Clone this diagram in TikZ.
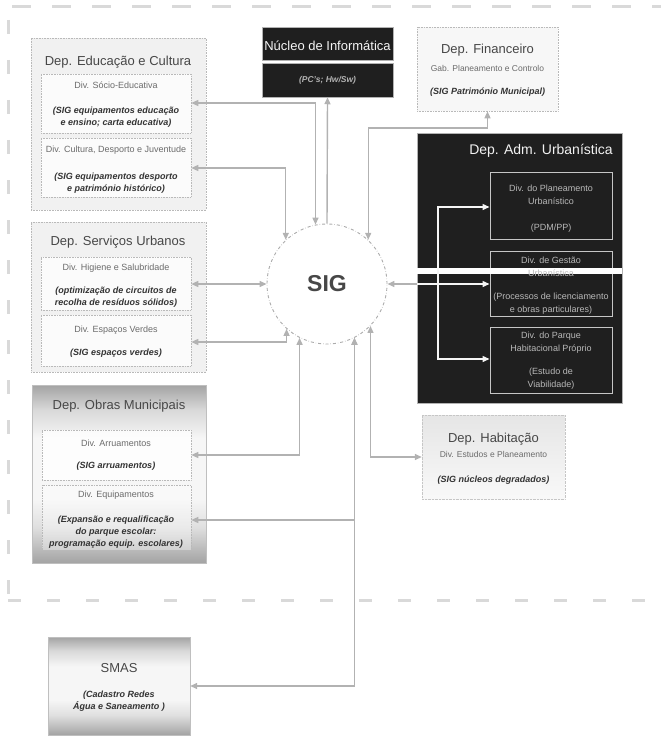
\documentclass[tikz,border=0pt]{standalone}
\usepackage{fontspec}
\setmainfont{Liberation Sans}
\usetikzlibrary{arrows.meta,fit}

% vertical shading: dark at top and bottom, light in the middle
\pgfdeclareverticalshading{endshade}{100bp}{color(0bp)=(gray!72); color(25bp)=(gray!72); color(35bp)=(gray!25); color(43bp)=(gray!7); color(60bp)=(gray!7); color(68bp)=(gray!30); color(75bp)=(gray!72); color(100bp)=(gray!72)}

\begin{document}
\begin{tikzpicture}[x=1pt,y=-1pt,
  lightbox/.style={draw=gray!55, densely dotted, fill=gray!11, inner sep=0pt, line width=0.6pt},
  divbox/.style={draw=gray!55, densely dotted, fill=gray!3, inner sep=0pt, line width=0.6pt},
  darkbox/.style={fill=black!88, draw=gray!60, inner sep=0pt, line width=0.5pt},
  darkdiv/.style={draw=gray!45, line width=1pt, inner sep=0pt},
  ttl/.style={font=\fontsize{13}{15}\selectfont, text=black!72},
  divtxt/.style={font=\fontsize{9}{11}\selectfont, text=black!58},
  subtxt/.style={font=\fontsize{8.5}{10}\selectfont, text=black!58},
  sigtxt/.style={font=\fontsize{9}{12}\selectfont\bfseries\itshape, text=black!80, align=center},
  admtxt/.style={font=\fontsize{9}{13}\selectfont, text=gray!55, align=center},
  tip/.tip={Triangle[length=7pt,width=6pt]},
  link/.style={draw=gray!60, line width=1.4pt, tip-tip},
  linkone/.style={draw=gray!60, line width=1.4pt, -tip},
  wlink/.style={draw=white!92!gray, line width=1.4pt},
  frameline/.style={draw=gray!30, line width=3pt}
]
\useasboundingbox (0,0) rectangle (661,738);

% dashed page frame
\draw[frameline, dash pattern=on 19pt off 21pt] (12,7) -- (661,7);
\draw[frameline, dash pattern=on 14pt off 26pt] (8,20) -- (8,600);
\draw[frameline, dash pattern=on 13pt off 26pt] (8,600) -- (661,600);

% Dep. Educacao e Cultura
\node[lightbox, fit={(31,38) (206,210)}] (edu) {};
\node[ttl] (eduT) at (118,62) {Dep. Educação e Cultura};
\node[divbox, fit={(41,74) (191,133)}] (edu1) {};
\node[divtxt] (edu1a) at (116,85) {Div. Sócio-Educativa};
\node[sigtxt] (edu1b) at (116,117) {(SIG equipamentos educação\\ e ensino; carta educativa)};
\node[divbox, fit={(41,138) (191,197)}] (edu2) {};
\node[divtxt] (edu2a) at (116,150) {Div. Cultura, Desporto e Juventude};
\node[sigtxt] (edu2b) at (116,183) {(SIG equipamentos desporto\\ e património histórico)};

% Dep. Servicos Urbanos
\node[lightbox, fit={(31,222) (206,372)}] (srv) {};
\node[ttl] (srvT) at (118,242) {Dep. Serviços Urbanos};
\node[divbox, fit={(41,257) (191,310)}] (srv1) {};
\node[divtxt] (srv1a) at (116,268) {Div. Higiene e Salubridade};
\node[sigtxt] (srv1b) at (116,297) {(optimização de circuitos de\\recolha de resíduos sólidos)};
\node[divbox, fit={(41,315) (191,366)}] (srv2) {};
\node[divtxt] (srv2a) at (116,330) {Div. Espaços Verdes};
\node[sigtxt] (srv2b) at (116,353) {(SIG espaços verdes)};

% Dep. Obras Municipais
\node[fit={(32,385) (206,563)}, inner sep=0pt, draw=gray!50, shading=endshade] (obr) {};
\node[ttl] (obrT) at (119,406) {Dep. Obras Municipais};
\node[divbox, fill=white, fill opacity=0.8, fit={(42,430) (191,480)}] (obr1) {};
\node[divtxt] (obr1a) at (116,443) {Div. Arruamentos};
\node[sigtxt] (obr1b) at (116,466) {(SIG arruamentos)};
\node[divbox, fill=white, fill opacity=0.35, fit={(42,485) (191,550)}] (obr2) {};
\node[divtxt] (obr2a) at (116,495) {Div. Equipamentos};
\node[sigtxt] (obr2b) at (116,532) {(Expansão e requalificação\\do parque escolar:\\programação equip. escolares)};

% Nucleo de Informatica
\node[darkbox, fit={(262,27) (393,60)}] (nuc) {};
\node[darkbox, fit={(262,63) (393,97)}] (nucB) {};
\node[font=\fontsize{13}{15}\selectfont, text=white!92!gray] (nucT) at (327.5,46) {Núcleo de Informática};
\node[font=\fontsize{8.5}{10}\selectfont\bfseries\itshape, text=gray!60] (nucS) at (327.5,80) {(PC's; Hw/Sw)};

% Dep. Financeiro
\node[lightbox, fill=gray!6, fit={(417,27) (558,111)}] (fin) {};
\node[ttl] (finT) at (487.5,50) {Dep. Financeiro};
\node[subtxt] (finS) at (487.5,68) {Gab. Planeamento e Controlo};
\node[sigtxt] (finB) at (487.5,92) {(SIG Património Municipal)};

% Dep. Adm. Urbanistica
\node[darkbox, fit={(417,133) (622,403)}] (adm) {};
\node[font=\fontsize{14}{16}\selectfont, text=white!90!gray] (admT) at (541,151) {Dep. Adm. Urbanística};
\node[darkdiv, fit={(490,173) (612,239)}] (adm1) {};
\node[darkdiv, fit={(490,251) (612,316)}] (adm2) {};
\node[darkdiv, fit={(490,327) (612,393)}] (adm3) {};
\fill[white] (417,268) rectangle (622,274);
\node[admtxt] (adm1a) at (551,195) {Div. do Planeamento\\Urbanístico};
\node[admtxt] (adm1b) at (551,228) {(PDM/PP)};
\node[admtxt] (adm2a) at (551,267) {Div. de Gestão\\Urbanística};
\node[admtxt] (adm2b) at (551,304) {(Processos de licenciamento\\e obras particulares)};
\node[admtxt] (adm3a) at (551,343) {Div. do Parque\\Habitacional Próprio};
\node[admtxt] (adm3b) at (551,379) {(Estudo de\\Viabilidade)};

% Dep. Habitacao
\node[fit={(422,415) (565,499)}, inner sep=0pt, draw=gray!45, densely dotted, top color=gray!20, bottom color=gray!5] (hab) {};
\node[ttl] (habT) at (493.5,439) {Dep. Habitação};
\node[subtxt] (habS) at (493.5,454) {Div. Estudos e Planeamento};
\node[sigtxt] (habB) at (493.5,480) {(SIG núcleos degradados)};

% SMAS
\node[fit={(48,637) (190,735)}, inner sep=0pt, draw=gray!50, shading=endshade] (smas) {};
\node[ttl] (smasT) at (119,668) {SMAS};
\node[sigtxt] (smasB) at (119,701) {(Cadastro Redes\\Água e Saneamento )};

% central SIG node
\node[circle, draw=gray!65, dash dot, line width=0.9pt, minimum size=120pt, inner sep=0pt,
      fill=white, font=\fontsize{23}{23}\selectfont\bfseries, text=black!72] (sig) at (327,284) {SIG};

% bend levels of the connectors
\coordinate (yA) at (0,103);
\coordinate (yC) at (0,168);
\coordinate (yD) at (0,128);
\coordinate (yEV) at (0,342);
\coordinate (yAR) at (0,455);
\coordinate (yEQ) at (0,520);
\coordinate (ySM) at (0,686);
\coordinate (v1) at (438,207);
\coordinate (v3) at (438,359);

% connectors to the SIG
\draw[link] (edu1.east |- yA) -| (sig.101);
\draw[linkone] (sig.90) -- (nucB.south);
\draw[link] (edu2.east |- yC) -| (sig.133);
\draw[link] (fin.south) -- (fin.south |- yD) -| (sig.47);
\draw[link] (srv1.east |- sig.west) -- (sig.west);
\draw[link] (srv2.east |- yEV) -| (sig.228);
\draw[link] (obr1.east |- yAR) -| (sig.243);
\draw[link] (obr2.east |- yEQ) -| (sig.297);
\draw[link] (smas.east |- ySM) -| (sig.297);
\draw[link] (sig.316) |- (hab.west);

% link into Dep. Adm. Urbanistica and its divisions
\draw[draw=gray!60, line width=1.4pt, tip-] (sig.east) -- (adm.west |- sig.east);
\draw[wlink, -{Triangle[length=7pt,width=6pt]}] (adm.west |- sig.east) -- (adm2.west |- sig.east);
\draw[wlink, {Triangle[length=7pt,width=6pt]}-{Triangle[length=7pt,width=6pt]}] (adm1.west |- v1) -- (v1) -- (v3) -- (adm3.west |- v3);
\end{tikzpicture}
\end{document}
